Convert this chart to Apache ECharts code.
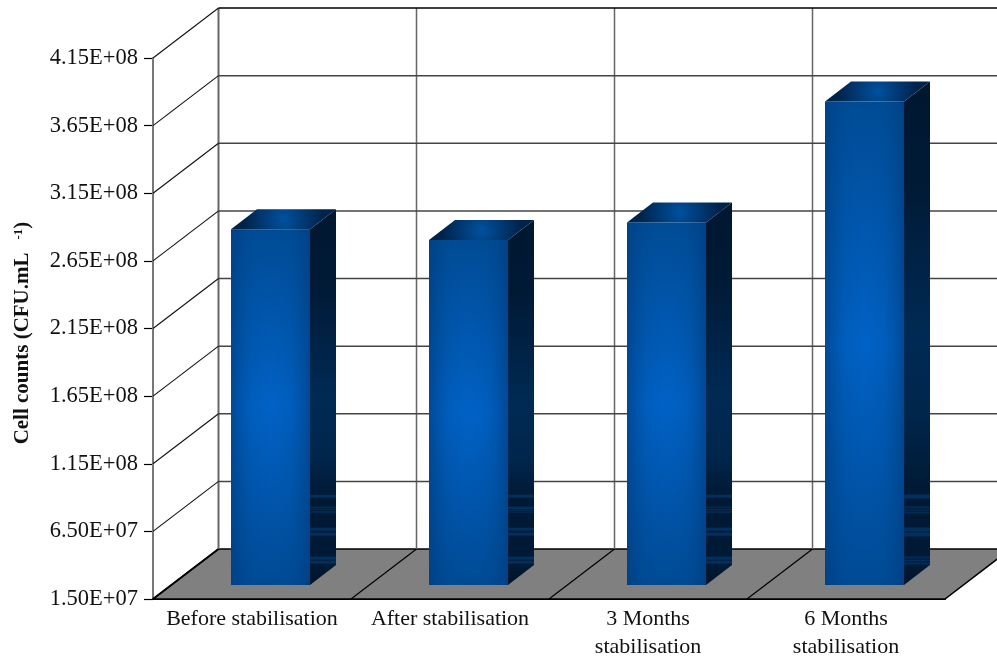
<!DOCTYPE html>
<html><head><meta charset="utf-8">
<style>html,body{margin:0;padding:0;background:#fff}#c{width:997px;height:657px}</style>
<script src="https://cdn.jsdelivr.net/npm/echarts@6/dist/echarts.min.js"></script>
</head><body><div id="c"></div>
<script>
const categories = ['Before stabilisation', 'After stabilisation', '3 Months\nstabilisation', '6 Months\nstabilisation'];
const cellCounts = [2.78e8, 2.70e8, 2.83e8, 3.725e8];
const tickValues = [1.5e7, 6.5e7, 1.15e8, 1.65e8, 2.15e8, 2.65e8, 3.15e8, 3.65e8, 4.15e8];
const tickLabels = ['1.50E+07', '6.50E+07', '1.15E+08', '1.65E+08', '2.15E+08', '2.65E+08', '3.15E+08', '3.65E+08', '4.15E+08'];

const DX = 65.5, DY = -50;           // depth of the whole plot
const BX = 18.5, BY = -14;           // offset of the bar's front face
const SX = 26, SY = -20;             // depth of a bar
const BAR = 79;
const FONT = '"Liberation Serif","Times New Roman",serif';

function line(x1, y1, x2, y2, stroke, w) {
  return {type:'line', shape:{x1,y1,x2,y2}, style:{stroke, lineWidth:w}, silent:true};
}
function poly(points, fill) {
  return {type:'polygon', shape:{points}, style:{fill}, silent:true};
}
function lin(x, y, x2, y2, stops) {
  return {type:'linear', x, y, x2, y2, global:false,
    colorStops: stops.map(s => ({offset:s[0], color:s[1]}))};
}

function renderFloor(params, api) {
  const c = params.coordSys, y0 = c.y + c.height, band = c.width / categories.length;
  const kids = [];
  kids.push(line(c.x, c.y, c.x, y0, '#777', 2));
  kids.push({type:'polygon',
    shape:{points:[[c.x,y0],[c.x+c.width,y0],[c.x+c.width+DX,y0+DY],[c.x+DX,y0+DY]]},
    style:{fill:'#808080', stroke:'#000', lineWidth:1.5}, silent:true});
  for (let i = 0; i < categories.length; i++) {
    const x = c.x + i * band;
    kids.push(line(x, y0, x + DX, y0 + DY, '#000', i === 0 ? 1.8 : 1.2));
    kids.push(line(x + DX, y0 + DY, x + DX, c.y + DY, '#666', i === 0 ? 2 : 1.5));
  }
  return {type:'group', children:kids};
}

function renderWall(params, api) {
  const c = params.coordSys;
  const y = api.coord([0, api.value(1)])[1];
  const top = params.dataIndex === tickValues.length - 1;
  const kids = [];
  if (params.dataIndex > 0) {
    kids.push(line(c.x + DX, y + DY, c.x + c.width + DX, y + DY, top ? '#000' : '#444', 1.5));
    kids.push(line(c.x, y, c.x + DX, y + DY, '#111', 1.1));
  }
  return {type:'group', children:kids};
}

function renderBar(params, api) {
  const pt = api.coord([api.value(0), api.value(1)]);
  const base = api.coord([api.value(0), tickValues[0]]);
  const xl = pt[0] - BAR / 2 + BX, xr = xl + BAR;
  const yt = pt[1] + BY, yb = base[1] + BY;
  const h = yb - yt;
  const sideH = h - SY;
  const bandsFromBottom = [90, 78, 75, 57, 52, 28, 24];
  const sideStops = [[0,'#001730'],[0.2,'#001a36'],[0.5,'#002a54'],[0.66,'#00264c'],[0.8,'#001a36']];
  bandsFromBottom.forEach(b => {
    const o = 1 - b / sideH;
    sideStops.push([o - 0.002, '#001a36'], [o, '#00305e'], [o + 0.006, '#00305e'], [o + 0.008, '#001a36']);
  });
  sideStops.push([1, '#001428']);
  sideStops.sort((a, b) => a[0] - b[0]);
  return {type:'group', children:[
    poly([[xr,yt],[xr+SX,yt+SY],[xr+SX,yb+SY],[xr,yb]], lin(0,0,0,1,sideStops)),
    poly([[xl,yt],[xr,yt],[xr+SX,yt+SY],[xl+SX,yt+SY]],
      {type:'radial', x:0.5, y:0.5, r:2, global:false, colorStops:[
        {offset:0,color:'#00519f'},{offset:0.5,color:'#003a75'},{offset:1,color:'#00234a'}]}),
    {type:'rect', shape:{x:xl,y:yt,width:BAR,height:h}, silent:true,
      style:{fill:lin(0,0,0,1,[[0,'#004b94'],[0.5,'#0062c6'],[1,'#004a94']])}},
    {type:'rect', shape:{x:xl,y:yt,width:BAR,height:h}, silent:true,
      style:{fill:lin(0,0,1,0,[[0,'rgba(0,60,125,0.65)'],[0.25,'rgba(0,70,140,0.15)'],[0.5,'rgba(0,80,160,0)'],[0.75,'rgba(0,70,140,0.15)'],[1,'rgba(0,60,125,0.65)']])}}
  ]};
}

const chart = echarts.init(document.getElementById('c'), null, {width:997, height:657});
chart.setOption({
  animation:false,
  backgroundColor:'#fff',
  grid:{left:153, right:52, top:58, bottom:58, containLabel:false, outerBoundsMode:'none'},
  xAxis:{type:'category', data:categories,
    axisLine:{lineStyle:{color:'#000', width:2}, onZero:false},
    axisTick:{show:false}, splitLine:{show:false},
    axisLabel:{color:'#111', fontFamily:FONT, fontSize:22, lineHeight:28, margin:6, interval:0}},
  yAxis:{type:'value', min:tickValues[0], max:tickValues[tickValues.length-1],
    name:'{a|Cell counts (CFU.mL}{s|    -1}{a|)}', nameLocation:'middle', nameRotate:90, nameGap:120,
    nameTextStyle:{padding:[0,0,0,-9], rich:{
      a:{fontFamily:FONT, fontWeight:'bold', fontSize:21, color:'#111'},
      s:{fontFamily:FONT, fontWeight:'bold', fontSize:13, color:'#111', verticalAlign:'top', padding:[0,0,6,0]}}},
    axisLine:{show:true, lineStyle:{color:'#777', width:2}},
    axisTick:{show:true, length:9, lineStyle:{color:'#000', width:1.2}, customValues:tickValues},
    splitLine:{show:false},
    axisLabel:{color:'#111', fontFamily:FONT, fontSize:22.5, margin:15, customValues:tickValues,
      formatter:v => tickLabels[tickValues.indexOf(v)]}},
  series:[
    {type:'custom', name:'floor', z:1, silent:true, renderItem:renderFloor, data:[[0, tickValues[0]]]},
    {type:'custom', name:'wall', z:2, silent:true, renderItem:renderWall, data:tickValues.map(v => [0, v])},
    {type:'custom', name:'Cell counts', z:3, silent:true, renderItem:renderBar, encode:{x:0,y:1},
      data:cellCounts.map((v,i) => [i, v])}
  ]
});
</script></body></html>
